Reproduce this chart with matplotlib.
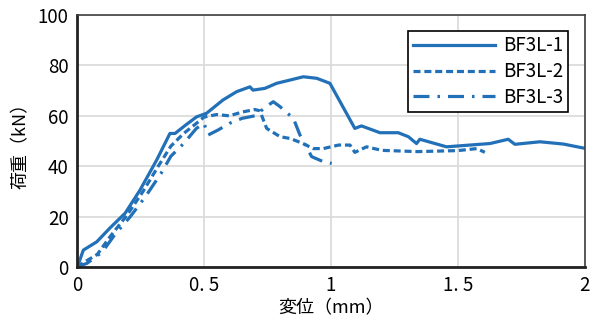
import numpy as np
import matplotlib.pyplot as plt

plt.rcParams['font.family'] = ['Noto Sans CJK JP', 'DejaVu Sans']

# BF3L-1 (solid)
x1 = [0, 0.005, 0.025, 0.078, 0.13, 0.19, 0.248, 0.314, 0.366, 0.386, 0.43, 0.471,
      0.51, 0.575, 0.629, 0.681, 0.693, 0.74, 0.786, 0.839, 0.891, 0.944, 0.996,
      1.094, 1.12, 1.193, 1.265, 1.305, 1.337, 1.35, 1.455, 1.626, 1.698, 1.724,
      1.823, 1.915, 2.0]
y1 = [0, 1.0, 6.7, 10, 15.5, 21.4, 30.5, 42.5, 53, 53, 56.5, 59.6,
      61, 66.3, 69.6, 71.5, 70.2, 70.9, 72.9, 74.2, 75.5, 74.9, 72.9,
      55, 56, 53.3, 53.3, 51.7, 49, 50.7, 47.7, 49, 50.7, 48.7,
      49.7, 48.8, 47.1]

# BF3L-2 (dashed)
x2 = [0, 0.03, 0.08, 0.13, 0.2, 0.26, 0.32, 0.37, 0.42, 0.47, 0.5, 0.55, 0.6,
      0.65, 0.7, 0.72, 0.747, 0.8, 0.84, 0.89, 0.93, 0.97, 1.03, 1.075, 1.094,
      1.14, 1.2, 1.34, 1.5, 1.575, 1.606]
y2 = [0, 2, 5, 12, 21, 30, 40, 48, 53, 57, 59.5, 60.5, 60,
      61.5, 62.5, 62, 55, 51.7, 51, 49, 47, 47, 48.4, 48.4, 45.5,
      47.7, 46.3, 45.8, 46.2, 47, 45.5]

# BF3L-3 (dash-dot)
x3 = [0, 0.04, 0.1, 0.15, 0.21, 0.27, 0.33, 0.37, 0.42, 0.47, 0.5, 0.517, 0.556,
      0.6, 0.65, 0.7, 0.75, 0.773, 0.8, 0.852, 0.878, 0.924, 0.97, 1.003]
y3 = [0, 1.5, 6, 13, 20, 28, 37, 44, 49, 55, 57, 52.4, 54.4,
      57, 59, 60, 64, 65.6, 63.6, 59, 52.4, 43.8, 41.8, 41.1]

xticks = [0, 0.5, 1, 1.5, 2]
xticklabels = ['0', '0. 5', '1', '1. 5', '2']
yticks = [0, 20, 40, 60, 80, 100]

col = '#2170B8'

fig = plt.figure(figsize=(5.99, 3.2), dpi=100)
ax = fig.add_axes([0.1285, 0.1656, 0.848, 0.7874])

ax.plot(x1, y1, color=col, lw=2.3, ls='-', label='BF3L-1')
ax.plot(x2, y2, color=col, lw=2.3, ls=(0, (2.2, 1.2)), label='BF3L-2')
ax.plot(x3, y3, color=col, lw=2.3, ls=(0, (5, 2.5, 0.8, 2.5)), label='BF3L-3')

ax.set_xlim(0, 2)
ax.set_ylim(0, 100)
ax.set_xticks(xticks)
ax.set_xticklabels(xticklabels)
ax.set_yticks(yticks)
ax.grid(True, color='#d9d9d9', lw=1.2)
ax.set_axisbelow(True)
ax.tick_params(length=0, labelsize=13.5, pad=6)

for s in ['left', 'bottom']:
    ax.spines[s].set_linewidth(2)
    ax.spines[s].set_color('#222222')
for s in ['top', 'right']:
    ax.spines[s].set_linewidth(1.2)
    ax.spines[s].set_color('#404040')

ax.set_xlabel('変位（mm）', fontsize=13, labelpad=2)
ax.set_ylabel('荷重（kN）', fontsize=13, labelpad=6)

leg = ax.legend(loc='upper right', fontsize=13.5, fancybox=False, framealpha=1,
                edgecolor='black', handlelength=4.4, borderpad=0.25,
                labelspacing=0.25, handletextpad=0.4,
                bbox_to_anchor=(0.985, 0.975))
leg.get_frame().set_linewidth(1.2)

plt.savefig('out.png', dpi=100)
